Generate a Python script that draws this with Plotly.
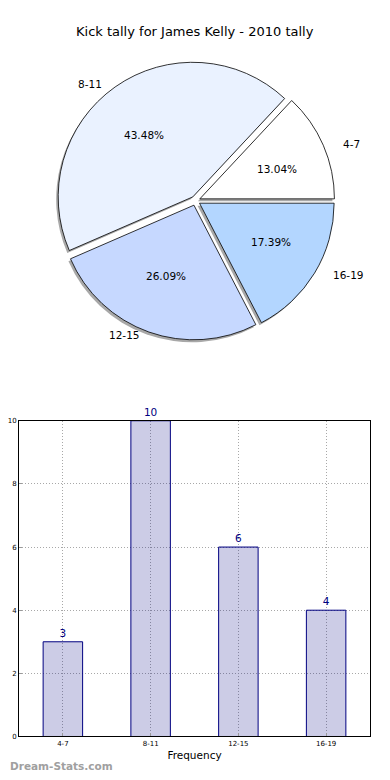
import math
import plotly.graph_objects as go

# ---- data ----
title_text = "Kick tally for James Kelly - 2010 tally"
categories = ["4-7", "8-11", "12-15", "16-19"]
counts = [3, 10, 6, 4]
pie_colors = ["#ffffff", "#eaf2ff", "#c6d8ff", "#b3d6ff"]
x_title = "Frequency"
y_title = "Occurrences"
y_ticks = [0, 2, 4, 6, 8, 10]
watermark = "Dream-Stats.com"

# ---- layout constants ----
W, H = 390, 780
OFF = 8  # page body margin offset
FONT = "DejaVu Sans"


def fx(p):  # page pixel x -> paper x
    return (p - OFF) / W


def fy(p):  # page pixel y -> paper y
    return 1 - (p - OFF) / H


PULL = 0.035
pie_cx, pie_cy, pie_r = 195.5, 198.7, 136.0  # page pixels
text_rx, text_ry = 140.0, 127.0  # text placement radii (reference pie is slightly elliptical)
box = 2 * pie_r * (1 + PULL)
pie_dom_y = [fy(pie_cy + box / 2), fy(pie_cy - box / 2)]
pie_dom_x = [0, 2 * (pie_cx - OFF) / W]
pull_px = PULL * pie_r
total = sum(counts)
rot = 90 - 360 * counts[0] / total  # first slice starts at 3 o'clock, ccw

fig = go.Figure()

# shadow pie (offset down-left)
sx, sy = 2.0, 2.5
fig.add_trace(go.Pie(
    labels=categories, values=counts, sort=False, direction="counterclockwise",
    rotation=rot, pull=[PULL] * len(counts),
    marker=dict(colors=["#a8a8a8"] * len(counts), line=dict(width=0)),
    textinfo="none", hoverinfo="skip", showlegend=False,
    domain=dict(x=[0, pie_dom_x[1] - 2 * sx / W],
                y=[pie_dom_y[0] - sy / H, pie_dom_y[1] - sy / H]),
))
# main pie
fig.add_trace(go.Pie(
    labels=categories, values=counts, sort=False, direction="counterclockwise",
    rotation=rot, pull=[PULL] * len(counts),
    marker=dict(colors=pie_colors, line=dict(color="black", width=0.8)),
    textinfo="none", showlegend=False,
    domain=dict(x=pie_dom_x, y=pie_dom_y),
))

# pie labels & percentages computed from the data
annotations = []
cum = 0
for cat, v in zip(categories, counts):
    th = math.radians(360 * (cum + v / 2) / total)
    cum += v
    c, s = math.cos(th), math.sin(th)
    lx = pie_cx + (pull_px + 1.1 * text_rx) * c
    ly = pie_cy - (pull_px + 1.1 * text_ry) * s
    annotations.append(dict(
        text=cat, x=fx(lx), y=fy(ly), xref="paper", yref="paper",
        xanchor="left" if c > 0 else "right", yanchor="middle", showarrow=False,
        font=dict(family=FONT, size=10.5, color="black")))
    px_ = pie_cx + (pull_px + 0.6 * text_rx) * c
    py_ = pie_cy - (pull_px + 0.6 * text_ry) * s
    annotations.append(dict(
        text="%.2f%%" % (100 * v / total), x=fx(px_), y=fy(py_),
        xref="paper", yref="paper", xanchor="center", yanchor="middle",
        showarrow=False, font=dict(family=FONT, size=10.5, color="black")))

# bar chart
fig.add_trace(go.Bar(
    x=categories, y=counts, width=0.45,
    marker=dict(color="rgba(0,0,128,0.2)", line=dict(color="#000080", width=1)),
    text=[str(v) for v in counts], textposition="outside",
    textfont=dict(family=FONT, size=10.5, color="#000080"),
    cliponaxis=False, showlegend=False, xaxis="x", yaxis="y",
))

# title
annotations.append(dict(
    text=title_text, x=fx(195), y=fy(28), xref="paper", yref="paper",
    xanchor="center", yanchor="middle", showarrow=False,
    font=dict(family=FONT, size=13, color="black")))
# y-axis label (clipped at left edge like reference)
annotations.append(dict(
    text=y_title, x=3 / W, y=fy(580), xref="paper", yref="paper",
    xanchor="right", yanchor="middle", textangle=-90, showarrow=False,
    font=dict(family=FONT, size=10.5, color="black")))
# watermark
annotations.append(dict(
    text=watermark, x=0, y=fy(770), xref="paper", yref="paper",
    xanchor="left", yanchor="middle", showarrow=False,
    font=dict(family=FONT, size=10.5, color="#a0a0a0", weight="bold")))

grid_kw = dict(showgrid=True, griddash="1px,2px", gridcolor="#a8a8a8", gridwidth=1)
axis_kw = dict(showline=True, mirror=True, linecolor="black", linewidth=1,
               ticks="inside", ticklen=3, tickcolor="#999",
               tickfont=dict(family=FONT, size=7, color="black"),
               zeroline=False, fixedrange=True)

fig.update_layout(
    width=W, height=H, autosize=False,
    margin=dict(l=0, r=0, t=0, b=0),
    paper_bgcolor="white", plot_bgcolor="white",
    font=dict(family=FONT, color="black"),
    xaxis=dict(domain=[fx(19), fx(370)], range=[-0.5, 3.5], type="category",
               title=dict(text=x_title, standoff=4, font=dict(family=FONT, size=10.5)),
               **grid_kw, **axis_kw),
    yaxis=dict(domain=[fy(740), fy(421)], range=[0, 10], tickvals=y_ticks,
               **grid_kw, **axis_kw),
    annotations=annotations,
)

fig.write_html("out.html")
